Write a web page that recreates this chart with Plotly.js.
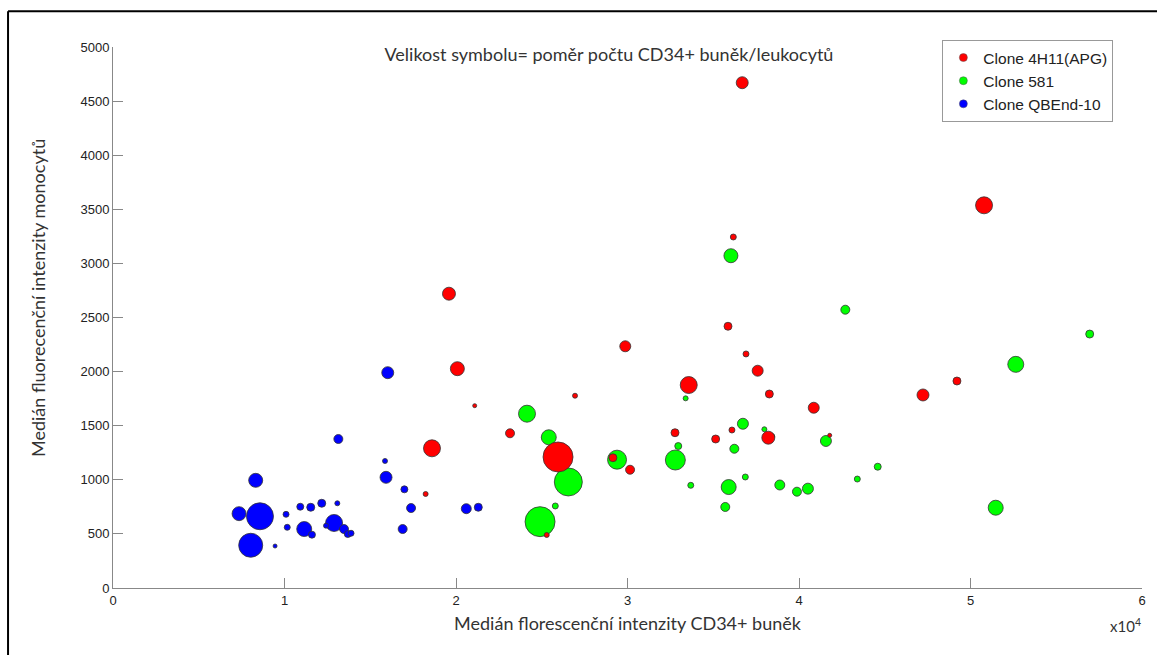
<!DOCTYPE html>
<html>
<head>
<meta charset="utf-8">
<script src="https://cdn.plot.ly/plotly-3.0.1.min.js"></script>
<style>html,body{margin:0;padding:0;background:#fff}#chart{width:1157px;height:655px}</style>
</head>
<body>
<div id="chart"></div>
<script>
// Series names and colours
const seriesNames = ["Clone 4H11(APG)", "Clone 581", "Clone QBEnd-10"];
const seriesColors = ['#ff0000', '#00ff00', '#0000ff'];

// Clone 4H11(APG)
const redX = [19590,20080,21090,18600,18230,23150,25950,26940,29870,29150,30150,32770,25290,36170,35860,36910,37590,33570,38270,40860,35140,36090,38210,41790,36690,50790,49210,47230];
const redY = [2720,2027,1685,1291,869,1430,1211,1777,2234,1204,1093,1435,490,3244,2419,2163,2008,1876,1793,1666,1377,1460,1389,1411,4670,3537,1913,1784];
const redSymbolSize = [13,14,4,17,5,9,30,5,11,8,9,8,5,6,8,6,11,17,8,11,8,6,13,4,12,17,8,12];

// Clone 581
const greenX = [24140,25410,26550,25790,24900,29390,32790,36030,42700,33390,36730,37980,38440,41570,32960,36230,44590,36870,43400,33690,35900,38880,39880,40520,35700,56950,52640,51470];
const greenY = [1611,1393,980,758,613,1186,1183,3071,2572,1753,1518,1467,1402,1359,1312,1287,1121,1026,1007,949,933,952,890,918,749,2347,2067,742];
const greenSymbolSize = [17,15,28,6,30,19,20,14,9,5,11,5,5,11,7,9,7,6,6,6,15,10,9,11,9,8,16,15];

// Clone QBEnd-10
const blueX = [16020,13140,15860,15920,16990,17380,16890,20600,21300,8320,7350,8570,8030,9450,10090,10160,10920,11530,12170,13080,11150,11600,12890,13470,13690,13880,12420];
const blueY = [1990,1377,1174,1023,912,739,545,733,746,995,687,663,395,388,681,561,751,746,783,783,545,493,601,545,499,506,576];
const blueSymbolSize = [12,9,5,12,7,9,9,10,8,14,14,27,24,4,6,6,7,8,8,5,15,7,17,9,7,6,5];

// Axis ticks
const xTickVals = [0,10000,20000,30000,40000,50000,60000];
const xTickText = ["0","1","2","3","4","5","6"];
const yTickVals = [0,500,1000,1500,2000,2500,3000,3500,4000,4500,5000];

const edge = {color:'#333', width:0.8};
function mk(name, x, y, s, color){
  return {type:'scatter', mode:'markers', name:name, x:x, y:y, showlegend:false,
    marker:{size:s, color:color, line:edge, opacity:1}, hoverinfo:'x+y'};
}
function legendEntry(name, color, rank){
  return {type:'scatter', mode:'markers', name:name, x:[null], y:[null], showlegend:true, legendrank:rank,
    marker:{size:8, color:color, line:{color:'#555', width:0.5}}, hoverinfo:'skip'};
}
const data = [
  mk(seriesNames[1], greenX, greenY, greenSymbolSize, seriesColors[1]),
  mk(seriesNames[0], redX, redY, redSymbolSize, seriesColors[0]),
  mk(seriesNames[2], blueX, blueY, blueSymbolSize, seriesColors[2]),
  legendEntry(seriesNames[0], seriesColors[0], 1),
  legendEntry(seriesNames[1], seriesColors[1], 2),
  legendEntry(seriesNames[2], seriesColors[2], 3)
];

const axFont = {family:'Liberation Sans, Arial, sans-serif', size:13, color:'#222'};
const titleFont = {family:'Lato, Open Sans, sans-serif', size:18, color:'#333'};
const layout = {
  width:1157, height:655,
  margin:{l:113, r:15, t:47, b:67},
  paper_bgcolor:'#fff', plot_bgcolor:'#fff',
  showlegend:true,
  title:{text:'Velikost symbolu= poměr počtu CD34+ buněk/leukocytů', x:0.482, xref:'paper', xanchor:'center',
    y:0.985, yref:'paper', yanchor:'middle', font:{family:'Lato, Open Sans, sans-serif', size:18, color:'#333'}},
  xaxis:{range:[0,60000], tickvals:xTickVals, ticktext:xTickText, ticks:'inside', ticklen:10, tickcolor:'#888',
    showline:true, linecolor:'#888', linewidth:1, showgrid:false, zeroline:false, mirror:false,
    tickfont:axFont, title:{text:'Medián florescenční intenzity CD34+ buněk', font:titleFont, standoff:10}},
  yaxis:{range:[0,5000], tickvals:yTickVals, ticks:'inside', ticklen:10, tickcolor:'#888',
    showline:true, linecolor:'#888', linewidth:1, showgrid:false, zeroline:false,
    tickfont:axFont},
  legend:{x:0.806, y:1.013, xanchor:'left', yanchor:'top', bgcolor:'#fff', bordercolor:'#999', borderwidth:1,
    font:{family:'Liberation Sans, Arial, sans-serif', size:15.5, color:'#222'}},
  annotations:[
    {text:'Medián fluorecenční intenzity monocytů', xref:'paper', yref:'paper', x:-0.0729, y:0.536,
     xanchor:'center', yanchor:'middle', textangle:-90, showarrow:false, font:titleFont},
    {text:'x10<sup>4</sup>', xref:'paper', yref:'paper', x:0.984, y:-0.07, xanchor:'center', yanchor:'middle',
     showarrow:false, font:{family:'Lato, Open Sans, sans-serif', size:15, color:'#333'}}
  ],
  shapes:[
    {type:'line', xref:'paper', yref:'paper', x0:-0.102, x1:-0.102, y0:-0.13, y1:1.066, line:{color:'#000', width:2}},
    {type:'line', xref:'paper', yref:'paper', x0:-0.102, x1:1.02, y0:1.066, y1:1.066, line:{color:'#000', width:2}}
  ]
};
Plotly.newPlot('chart', data, layout, {displayModeBar:false, staticPlot:true});
</script>
</body>
</html>
